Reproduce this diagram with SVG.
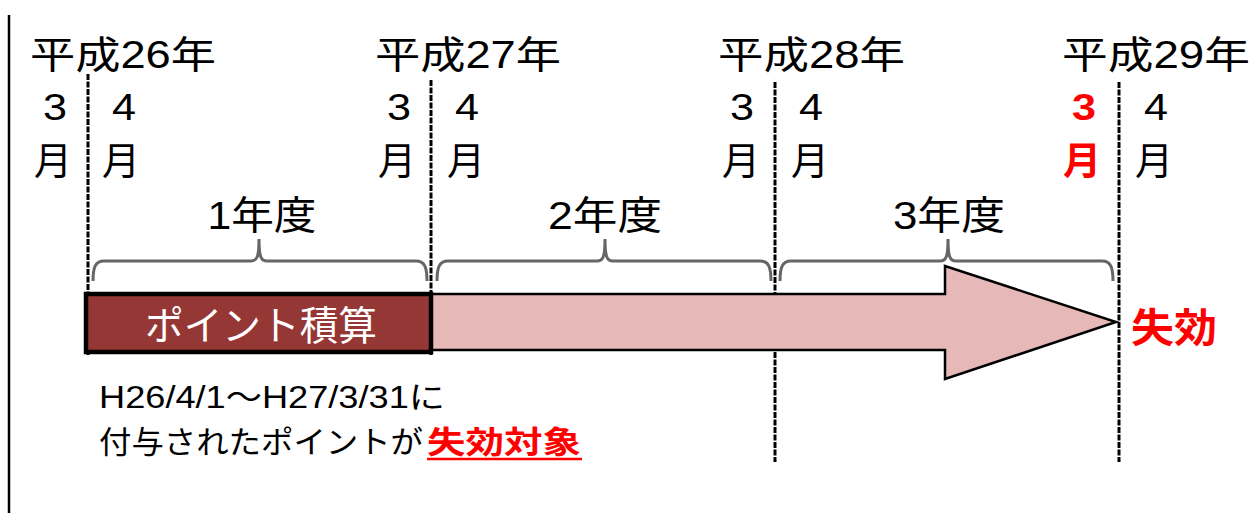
<svg xmlns="http://www.w3.org/2000/svg" width="1258" height="513" viewBox="0 0 1258 513">
<defs>
<style>
text{font-family:"Liberation Sans","Noto Sans CJK JP",sans-serif;fill:#000}
.yr{font-size:38px}
.mo{font-size:38px;text-anchor:middle}
.dg{font-size:37px;text-anchor:middle}
.fy{font-size:39px;text-anchor:middle}
.red{fill:#FF0000;font-weight:bold}
.dash{stroke:#000;stroke-width:3;stroke-dasharray:6 1.5;fill:none}
.brace{stroke:#666;stroke-width:3;fill:none}
.note{font-size:31px}
</style>
</defs>
<rect width="1258" height="513" fill="#fff"/>
<line x1="9" y1="15" x2="9" y2="513" stroke="#000" stroke-width="2.5"/>
<g id="guides">
<line class="dash" x1="88" y1="74" x2="88" y2="355"/>
<line class="dash" x1="431" y1="80" x2="431" y2="355"/>
<line class="dash" x1="775" y1="82" x2="775" y2="462"/>
<line class="dash" x1="1119" y1="82" x2="1119" y2="462"/>
</g>
<g id="years">
<text class="yr" x="30" y="68" textLength="186" lengthAdjust="spacingAndGlyphs">平成26年</text>
<text class="yr" x="375" y="68" textLength="186" lengthAdjust="spacingAndGlyphs">平成27年</text>
<text class="yr" x="718" y="68" textLength="187" lengthAdjust="spacingAndGlyphs">平成28年</text>
<text class="yr" x="1062" y="68" textLength="188" lengthAdjust="spacingAndGlyphs">平成29年</text>
</g>
<g id="months">
<text class="dg" x="55" y="120" textLength="24" lengthAdjust="spacingAndGlyphs">3</text><text class="mo" x="53" y="174">月</text>
<text class="dg" x="124" y="120" textLength="24" lengthAdjust="spacingAndGlyphs">4</text><text class="mo" x="121" y="174">月</text>
<text class="dg" x="399" y="120" textLength="24" lengthAdjust="spacingAndGlyphs">3</text><text class="mo" x="397" y="174">月</text>
<text class="dg" x="467" y="120" textLength="24" lengthAdjust="spacingAndGlyphs">4</text><text class="mo" x="466" y="174">月</text>
<text class="dg" x="742" y="120" textLength="24" lengthAdjust="spacingAndGlyphs">3</text><text class="mo" x="741" y="174">月</text>
<text class="dg" x="811" y="120" textLength="24" lengthAdjust="spacingAndGlyphs">4</text><text class="mo" x="810" y="174">月</text>
<text class="dg red" x="1084" y="120" textLength="24" lengthAdjust="spacingAndGlyphs">3</text><text class="mo red" x="1082" y="174">月</text>
<text class="dg" x="1156" y="120" textLength="24" lengthAdjust="spacingAndGlyphs">4</text><text class="mo" x="1154" y="174">月</text>
</g>
<g id="fiscal-years">
<text class="fy" x="262" y="229" textLength="109" lengthAdjust="spacingAndGlyphs">1年度</text>
<text class="fy" x="605" y="229" textLength="114" lengthAdjust="spacingAndGlyphs">2年度</text>
<text class="fy" x="949" y="229" textLength="112" lengthAdjust="spacingAndGlyphs">3年度</text>
</g>
<g id="braces">
<path class="brace" d="M93,281 C93,268 95,261 104,261 L251,261 C257,261 259,257 259,239 C259,257 261,261 267,261 L416,261 C425,261 427,268 427,281"/>
<path class="brace" d="M437,281 C437,268 439,261 448,261 L597,261 C603,261 605,257 605,239 C605,257 607,261 613,261 L760,261 C769,261 771,268 771,281"/>
<path class="brace" d="M780,281 C780,268 782,261 791,261 L940,261 C946,261 948,257 948,239 C948,257 950,261 956,261 L1102,261 C1111,261 1113,268 1113,281"/>
</g>
<g id="arrow">
<polygon points="420,294 945,294 945,266 1116,322 945,379 945,350 420,350" fill="#E6B9B8" stroke="#000" stroke-width="2.5" stroke-linejoin="miter"/>
</g>
<g id="accumulate">
<rect x="86" y="294" width="345" height="58" fill="#953735" stroke="#000" stroke-width="4.5"/>
<text x="261" y="340" font-size="40" text-anchor="middle" style="fill:#fff" textLength="232" lengthAdjust="spacingAndGlyphs">ポイント積算</text>
</g>
<g id="expire">
<text class="red" x="1131" y="342" font-size="40" textLength="86" lengthAdjust="spacingAndGlyphs">失効</text>
</g>
<g id="note">
<text class="note" x="99" y="408" textLength="346" lengthAdjust="spacingAndGlyphs">H26/4/1～H27/3/31に</text>
<text class="note" x="99" y="453" textLength="324" lengthAdjust="spacingAndGlyphs">付与されたポイントが</text>
<text class="note red" x="427" y="453" textLength="154" lengthAdjust="spacingAndGlyphs">失効対象</text>
<line x1="427" y1="459" x2="582" y2="459" stroke="#FF0000" stroke-width="2.5"/>
</g>
</svg>
